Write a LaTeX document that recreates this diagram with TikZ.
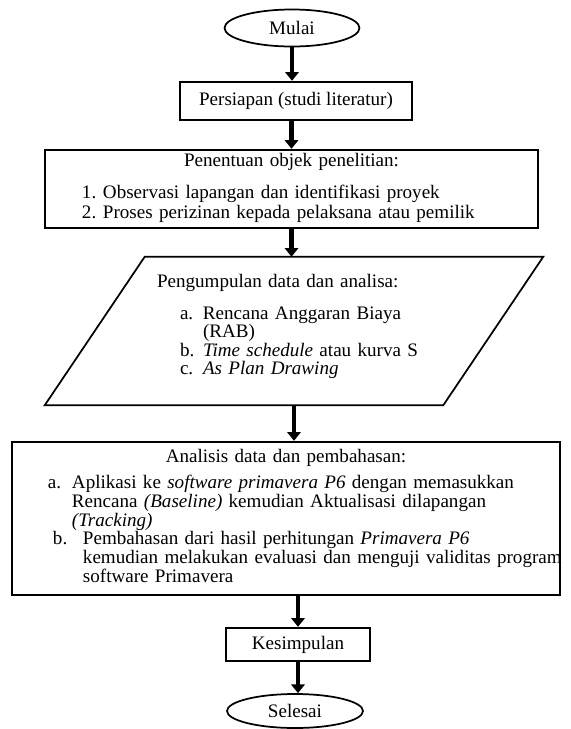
\documentclass[tikz,border=0pt]{standalone}
\usepackage{fontspec}
\setmainfont{Liberation Serif}
\usepackage{tikz}
\usetikzlibrary{arrows.meta,positioning,shapes.geometric}
\newlength{\linelen}

\begin{document}
\begin{tikzpicture}[
    x=0.75pt, y=-0.75pt,
    every node/.style={font=\fontsize{14.3}{13.5}\selectfont},
    term/.style={draw, ellipse, line width=1.3pt, inner sep=0pt},
    box/.style={draw, rectangle, line width=1.8pt, inner sep=0pt},
    listbox/.style={box, align=left},
    arr/.style={-{Triangle[width=10pt,length=6.5pt]}, line width=3.4pt}
  ]
  \useasboundingbox (0,0) rectangle (571,729);

  \node[term, minimum width=101.25pt, minimum height=27.75pt] (mulai) at (292,28) {Mulai};
  \node[box, minimum width=174pt, minimum height=28.5pt] (persiapan) at (296,101) {Persiapan (studi literatur)};
  \node[listbox, text width=369.75pt, minimum height=58.5pt, font=\fontsize{14.3}{14.6}\selectfont] (objek) at (291.5,189) {%
    \makebox[369.75pt]{Penentuan objek penelitian:}\\[9.4pt]
    \hspace*{27.75pt}\begin{tabular}[t]{@{}p{15.75pt}@{}l@{}}
      1. & Observasi lapangan dan identifikasi proyek\\
      2. & Proses perizinan kepada pelaksana atau pemilik
    \end{tabular}};
  % parallelogram drawn round an empty frame
  \node[inner sep=0pt, minimum width=298.5pt, minimum height=111pt, text width=298.5pt, align=left] (data) at (294,331) {%
    \hspace*{46.5pt}Pengumpulan data dan analisa:\\[10.5pt]
    \hspace*{63.75pt}\begin{tabular}[t]{@{}p{17.25pt}@{}l@{}}
      a. & Rencana Anggaran Biaya\\
         & (RAB)\\
      b. & \textit{Time schedule} atau kurva S\\
      c. & \textit{As Plan Drawing}\rule[-10pt]{0pt}{0pt}
    \end{tabular}};
  \draw[line width=1.3pt] ([xshift=37.5pt]data.north west) -- ([xshift=37.5pt]data.north east)
    -- ([xshift=-37.5pt]data.south east) -- ([xshift=-37.5pt]data.south west) -- cycle;
  \node[listbox, text width=411pt, minimum height=114.75pt] (analisis) at (286,518.5) {%
    \makebox[411pt]{Analisis data dan pembahasan:}\\[6pt]
    \hspace*{27pt}\begin{tabular}[t]{@{}p{18pt}@{}l@{}}
      a. & Aplikasi ke \textit{software primavera P6} dengan memasukkan\\
         & Rencana \textit{(Baseline)} kemudian Aktualisasi dilapangan\\
         & \textit{(Tracking)}\\
      \hspace*{3.75pt}b. & \hspace*{8.25pt}\settowidth{\linelen}{kemudian melakukan evaluasi dan menguji validitas program}%
           \makebox[\linelen][s]{Pembahasan dari hasil perhitungan \textit{Primavera P6}}\\
         & \hspace*{8.25pt}kemudian melakukan evaluasi dan menguji validitas program\\
         & \hspace*{8.25pt}software Primavera
    \end{tabular}};
  \node[box, minimum width=108pt, minimum height=24.75pt] (kesimpulan) at (298,644.5) {Kesimpulan};
  \node[term, minimum width=102pt, minimum height=25.5pt] (selesai) at (295,711) {Selesai};

  \draw[arr] (mulai.south) -- (mulai.south |- persiapan.north);
  \draw[arr] (objek.north |- persiapan.south) -- (objek.north);
  \draw[arr] (objek.south) -- (objek.south |- data.north);
  \draw[arr] (data.south) -- (data.south |- analisis.north);
  \draw[arr] (kesimpulan.north |- analisis.south) -- (kesimpulan.north);
  \draw[arr] (kesimpulan.south) -- (kesimpulan.south |- selesai.north);
\end{tikzpicture}
\end{document}
